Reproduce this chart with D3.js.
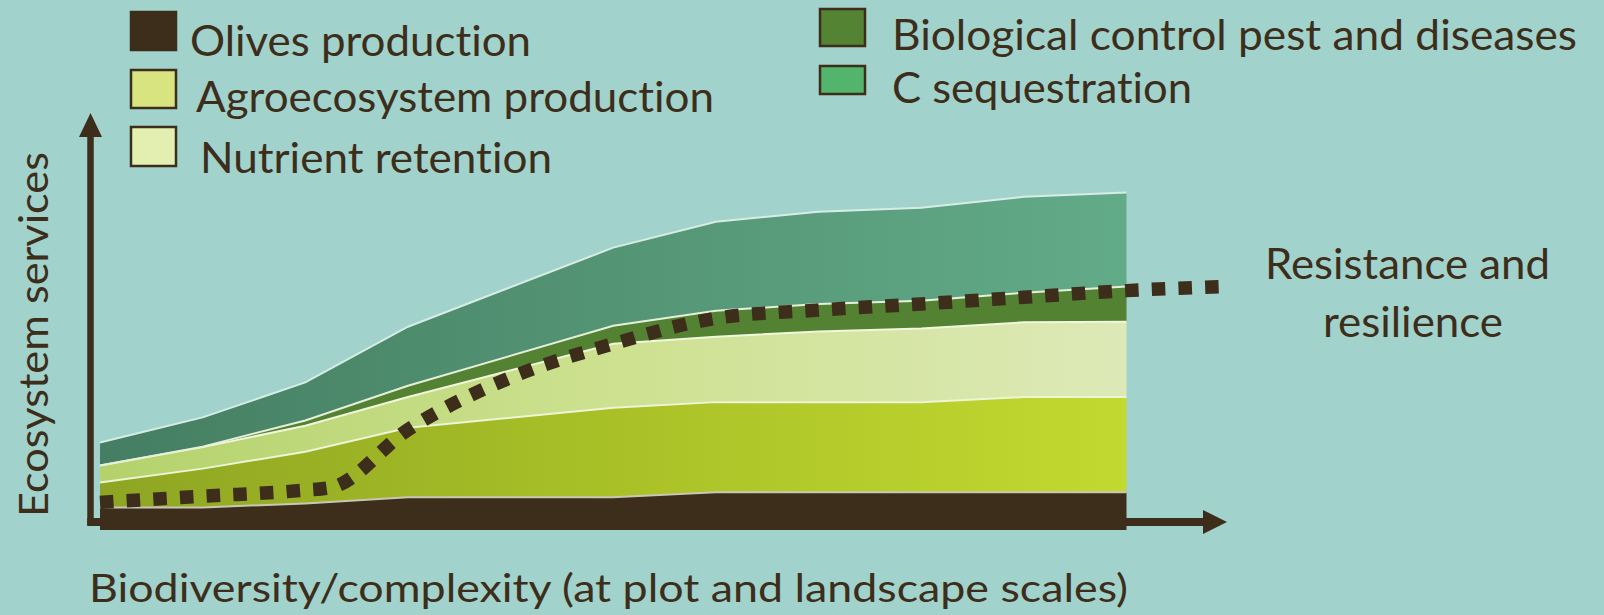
<!DOCTYPE html>
<html>
<head>
<meta charset="utf-8">
<script src="https://cdn.jsdelivr.net/npm/d3@7"></script>
<style>
  html, body { margin: 0; padding: 0; background: #a1d2cc; }
  svg { display: block; }
  text { font-family: Lato, "Open Sans", sans-serif; fill: #3c2e1b; font-variant-ligatures: none; font-feature-settings: "liga" 0; }
</style>
</head>
<body>
<svg id="chart" width="1604" height="615"></svg>
<script>
// positions along the complexity axis (no point at 4)
var xPos = [0, 1, 2, 3, 5, 6, 7, 8, 9, 10];

// stacked services, bottom to top
var olives     = [22, 22, 26, 32, 32, 37, 37, 37, 37, 37];
var agro       = [24.5, 38, 50.5, 68, 87.5, 88, 88, 88, 93, 93];
var nutrient   = [16.5, 21, 25.5, 30, 62.5, 64, 69, 72, 73, 73.5];
var bioControl = [0, 0.5, 5, 11, 17.6, 25.3, 27, 27, 29, 34.5];
var cSeq       = [22.6, 28.6, 37.3, 57.7, 76.4, 87, 90, 91, 93.7, 92];

// resistance and resilience (dotted)
var resX       = [0, 1, 2, 2.25, 3, 4, 5, 6, 7, 8, 9, 10, 10.93];
var resilience = [27, 33, 39, 41.5, 98, 149, 182, 207, 215, 221, 227.5, 234, 238];

var keys = ['olives', 'agro', 'nutrient', 'bio', 'cseq'];
var leftLegend = ['Olives production', 'Agroecosystem production', 'Nutrient retention'];
var rightLegend = ['Biological control pest and diseases', 'C sequestration'];
var resLabel = ['Resistance and', 'resilience'];
var yLabel = 'Ecosystem services';
var xLabel = 'Biodiversity/complexity (at plot and landscape scales)';

(function() {
	'use strict';

	var svg = d3.select('#chart'),
		ink = '#3c2e1b';

	var table = xPos.map(function(x, i) {
		return { x: x, olives: olives[i], agro: agro[i], nutrient: nutrient[i], bio: bioControl[i], cseq: cSeq[i] };
	});

	var x = d3.scaleLinear().domain([0, 10]).range([100, 1126.5]),
		y = d3.scaleLinear().domain([0, 400]).range([530, 530 - 400 * 1.023]);

	// gradients
	var defs = svg.append('defs');
	var grads = {
		cseq: ['#457e62', '#62ab88'],
		nutrient: ['#b3d26b', '#cde190', '#dde9b7'],
		agro: ['#8ea523', '#a9c127', '#c2d930']
	};
	Object.keys(grads).forEach(function(k) {
		var g = defs.append('linearGradient')
			.attr('id', 'g-' + k)
			.attr('gradientUnits', 'userSpaceOnUse')
			.attr('x1', x(0)).attr('x2', x(10))
			.attr('y1', 0).attr('y2', 0);
		grads[k].forEach(function(c, i, arr) {
			g.append('stop').attr('offset', i / (arr.length - 1)).attr('stop-color', c);
		});
	});

	var fills = {
		olives: '#3c2e1b',
		agro: 'url(#g-agro)',
		nutrient: 'url(#g-nutrient)',
		bio: '#538233',
		cseq: 'url(#g-cseq)'
	};
	var edges = {
		olives: '#c9c6b6',
		agro: '#eef4d6',
		nutrient: '#f2f6dd',
		bio: '#e6efd9',
		cseq: '#d8ece6'
	};

	// axes: arrows
	var axisG = svg.append('g');
	var yx = 90.5, xy = 522;
	axisG.append('line')
		.attr('x1', yx).attr('x2', yx)
		.attr('y1', 525).attr('y2', 134)
		.attr('stroke', ink).attr('stroke-width', 6.5);
	axisG.append('path')
		.attr('d', 'M' + (yx - 11.5) + ',137 L' + yx + ',113 L' + (yx + 11.5) + ',137 Z')
		.attr('fill', ink);
	axisG.append('line')
		.attr('x1', yx - 3.25).attr('x2', 1205)
		.attr('y1', xy).attr('y2', xy)
		.attr('stroke', ink).attr('stroke-width', 8);
	axisG.append('path')
		.attr('d', 'M1203,510 L1227,522 L1203,534 Z')
		.attr('fill', ink);

	// stacked areas
	var series = d3.stack().keys(keys)(table);
	var area = d3.area()
		.x(function(d) { return x(d.data.x); })
		.y0(function(d) { return y(d[0]); })
		.y1(function(d) { return y(d[1]); });
	var topLine = d3.line()
		.x(function(d) { return x(d.data.x); })
		.y(function(d) { return y(d[1]); });

	svg.append('g').selectAll('path')
		.data(series)
		.enter()
		.append('path')
		.attr('d', area)
		.attr('fill', function(d) { return fills[d.key]; });

	svg.append('g').selectAll('path')
		.data(series)
		.enter()
		.append('path')
		.attr('d', topLine)
		.attr('fill', 'none')
		.attr('stroke', function(d) { return edges[d.key]; })
		.attr('stroke-width', 2);

	// resistance and resilience
	var resLine = d3.line()
		.x(function(d, i) { return x(resX[i]); })
		.y(function(d) { return y(d); })
		.curve(d3.curveMonotoneX);
	svg.append('path')
		.datum(resilience)
		.attr('d', resLine)
		.attr('fill', 'none')
		.attr('stroke', ink)
		.attr('stroke-width', 13.5)
		.attr('stroke-dasharray', '13.5,13.2');

	// text sized by cap height, squeezed to the measured width
	var label = function(str, px, py, size, w, tr) {
		var t = svg.append('text')
			.attr('font-size', size)
			.text(str);
		if (tr) t.attr('transform', tr);
		else t.attr('x', px).attr('y', py);
		t.attr('textLength', w).attr('lengthAdjust', 'spacingAndGlyphs');
		return t;
	};

	// legend
	var boxesL = [
		{ y: 12, h: 38, fill: '#3c2e1b' },
		{ y: 70, h: 38, fill: '#d7e480' },
		{ y: 127, h: 39, fill: '#e3efb1' }
	];
	var textL = [
		{ x: 190, y: 56, w: 341 },
		{ x: 196, y: 111.5, w: 518 },
		{ x: 200, y: 173, w: 352 }
	];
	leftLegend.forEach(function(name, i) {
		svg.append('rect')
			.attr('x', 131).attr('y', boxesL[i].y)
			.attr('width', 45).attr('height', boxesL[i].h)
			.attr('fill', boxesL[i].fill)
			.attr('stroke', ink).attr('stroke-width', 2.5);
		label(name, textL[i].x, textL[i].y, 43, textL[i].w);
	});

	var boxesR = [
		{ y: 9, h: 37, fill: '#548334' },
		{ y: 66, h: 28, fill: '#53b56b' }
	];
	var textR = [
		{ x: 892, y: 50, w: 685 },
		{ x: 892, y: 103, w: 300 }
	];
	rightLegend.forEach(function(name, i) {
		svg.append('rect')
			.attr('x', 820).attr('y', boxesR[i].y)
			.attr('width', 45).attr('height', boxesR[i].h)
			.attr('fill', boxesR[i].fill)
			.attr('stroke', ink).attr('stroke-width', 2.5);
		label(name, textR[i].x, textR[i].y, 43, textR[i].w);
	});

	// resistance label
	var resPos = [{ x: 1265, y: 279, w: 285 }, { x: 1323, y: 337, w: 180 }];
	resLabel.forEach(function(s, i) {
		label(s, resPos[i].x, resPos[i].y, 42, resPos[i].w);
	});

	// axis titles
	label(yLabel, 0, 0, 41, 365, 'translate(48,517) rotate(-90)');
	label(xLabel, 89, 602, 38, 1039);
})();
</script>
</body>
</html>
